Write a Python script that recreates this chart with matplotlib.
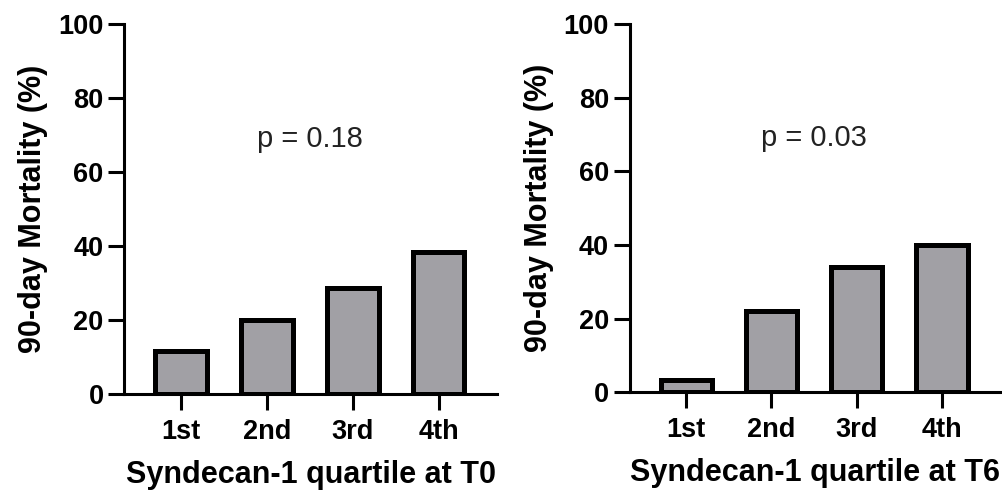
import matplotlib
matplotlib.use("Agg")
import matplotlib.pyplot as plt

plt.rcParams['font.family'] = ['Liberation Sans', 'DejaVu Sans']

quartiles = ["1st", "2nd", "3rd", "4th"]
mortality_t0 = [11.7, 20.0, 28.6, 38.4]
mortality_t6 = [3.4, 22.0, 33.9, 39.9]
p_values = ["p = 0.18", "p = 0.03"]
xlabels = ["Syndecan-1 quartile at T0", "Syndecan-1 quartile at T6"]
yticks = [0, 20, 40, 60, 80, 100]

fig = plt.figure(figsize=(10.02, 4.92), dpi=100)
ax1 = fig.add_axes([0.1241, 0.1986, 0.3720, 0.7526])
ax2 = fig.add_axes([0.6287, 0.2026, 0.3693, 0.7486])

for ax, vals, ptxt, xl in zip([ax1, ax2], [mortality_t0, mortality_t6], p_values, xlabels):
    x = range(len(quartiles))
    ax.bar(x, vals, width=0.6, color="#a1a0a5", edgecolor="black", linewidth=3.6, zorder=2)
    ax.set_xlim(-0.66, 3.68)
    ax.set_ylim(0, 100)
    ax.set_yticks(yticks)
    ax.set_xticks(list(x))
    ax.set_xticklabels(quartiles)
    for s in ["top", "right"]:
        ax.spines[s].set_visible(False)
    for s in ["left", "bottom"]:
        ax.spines[s].set_linewidth(2.2)
        ax.spines[s].set_zorder(3)
    ax.tick_params(axis="both", length=11.5, width=2.2, labelsize=19.5)
    ax.tick_params(axis="x", pad=6)
    ax.tick_params(axis="y", pad=3.5)
    for lab in ax.get_xticklabels() + ax.get_yticklabels():
        lab.set_fontweight("bold")
    ax.set_ylabel("90-day Mortality (%)", fontsize=22, fontweight="bold")
    ax.yaxis.set_label_coords(-0.205, 0.5)
    ax.set_xlabel(xl, fontsize=22, fontweight="bold")
    ax.xaxis.set_label_coords(0.5, -0.178)
    ax.text(1.5, 69, ptxt, fontsize=21, ha="center", va="center", color="#222222")

fig.savefig("out.png", dpi=100)
